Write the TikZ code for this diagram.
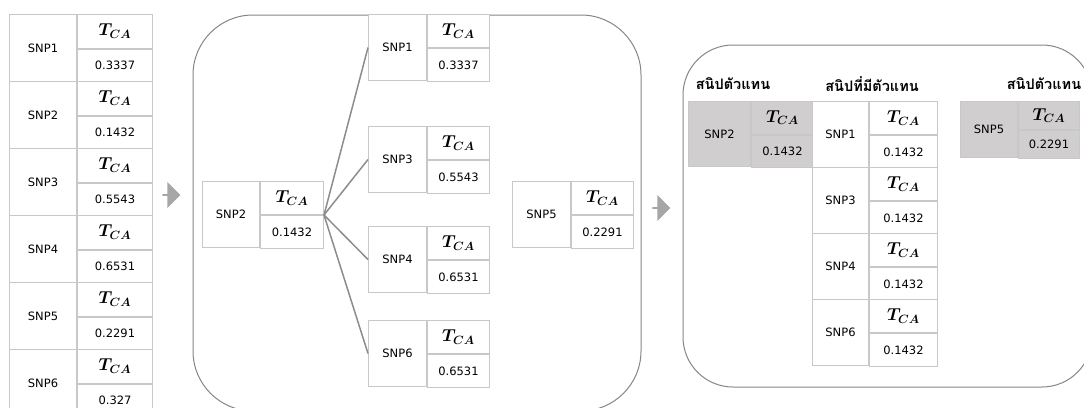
\documentclass[tikz,border=0pt]{standalone}
\usepackage{amsmath}
\usepackage{fontspec}
\setmainfont{DejaVu Sans}
\newfontfamily\thaifont[Script=Thai]{Loma}
\usetikzlibrary{shapes.arrows}

\definecolor{cellline}{HTML}{C8C8C8}
\definecolor{boxline}{HTML}{858585}
\definecolor{linkline}{HTML}{8C8C8C}
\definecolor{arrowgray}{HTML}{A6A6A6}
\definecolor{shade}{HTML}{D0CECE}

\newcommand{\tca}{\fontsize{18}{20}\selectfont$\boldsymbol{T_{CA}}$}
% one SNP table: id, top-left, name width, value width, height, label, value, fill
\newcommand{\snptab}[8]{%
  \node[cell, fill=#8, minimum width=#3pt, minimum height=#5pt] (#1) at (#2) {#6};
  \node[cell, fill=#8, minimum width=#4pt, minimum height=#5pt/2] (#1t) at (#1.north east) {\tca};
  \node[cell, fill=#8, minimum width=#4pt, minimum height=#5pt/2] (#1v) at (#1t.south west) {#7};
}

\begin{document}
\begin{tikzpicture}[x=1pt,y=-1pt,
  cell/.style={draw=cellline, line width=1pt, inner sep=0pt, anchor=north west,
    font=\fontsize{11.5}{13}\selectfont},
  group box/.style={draw=boxline, line width=1pt},
  step arrow/.style={single arrow, fill=arrowgray, draw=none, inner sep=0pt,
    minimum height=18pt, minimum width=26pt, single arrow head extend=3pt},
  link/.style={draw=linkline, line width=1.5pt},
  head/.style={font=\thaifont\bfseries\fontsize{14.5}{16}\selectfont}]

  \useasboundingbox (0,0) rectangle (1084,407);
  \clip (0,0) rectangle (1084,407);

  % all SNPs
  \foreach \lbl/\val [count=\i] in {SNP1/0.3337, SNP2/0.1432, SNP3/0.5543,
      SNP4/0.6531, SNP5/0.2291, SNP6/0.327}
    {\snptab{left\i}{9,{14+67*(\i-1)}}{67}{75}{67}{\lbl}{\val}{white}}

  \node[step arrow] (go1) at (171,195) {};

  % grouping
  \draw[group box, rounded corners=60pt] (193,15) rectangle (641,411);
  \snptab{mid2}{202,181}{57}{63}{66}{SNP2}{0.1432}{white}
  \snptab{fan1}{368,14}{58}{62}{66}{SNP1}{0.3337}{white}
  \snptab{fan3}{368,126}{58}{62}{66}{SNP3}{0.5543}{white}
  \snptab{fan4}{368,226}{58}{62}{66}{SNP4}{0.6531}{white}
  \snptab{fan6}{368,320}{58}{62}{66}{SNP6}{0.6531}{white}
  \snptab{mid5}{512,181}{58}{62}{66}{SNP5}{0.2291}{white}
  \foreach \n in {fan1,fan3,fan4,fan6}
    \draw[link] (mid2t.south east) -- (\n.west);

  \node[step arrow] (go2) at (661,208) {};

  % result
  \draw[group box, rounded corners=50pt] (683,45) rectangle (1092,387);
  \node[head] (h1) at (733,84) {สนิปตัวแทน};
  \node[head] (h2) at (872,84) {สนิปที่มีตัวแทน};
  \node[head] (h3) at (1044,84) {สนิปตัวแทน};
  \snptab{rep2}{688,101}{62}{62}{65}{SNP2}{0.1432}{shade}
  \snptab{mem1}{812,101}{56}{68}{66}{SNP1}{0.1432}{white}
  \snptab{mem3}{812,167}{56}{68}{66}{SNP3}{0.1432}{white}
  \snptab{mem4}{812,233}{56}{68}{66}{SNP4}{0.1432}{white}
  \snptab{mem6}{812,299}{56}{68}{66}{SNP6}{0.1432}{white}
  \snptab{rep5}{960,101}{57}{61}{56}{SNP5}{0.2291}{shade}
\end{tikzpicture}
\end{document}
